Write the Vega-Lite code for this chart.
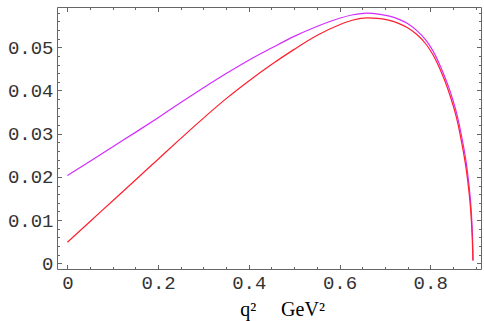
{
  "$schema": "https://vega.github.io/schema/vega-lite/v6.json",
  "width": 424,
  "height": 262,
  "autosize": "none",
  "padding": {"left": 57, "top": 7, "right": 3, "bottom": 52},
  "background": "white",
  "config": {
    "view": {"stroke": null},
    "axis": {
      "grid": false,
      "domainColor": "#666666",
      "domainWidth": 1,
      "tickColor": "#666666",
      "tickWidth": 1,
      "labelFont": "Liberation Mono",
      "labelFontSize": 19,
      "labelColor": "#333333",
      "labelOverlap": false,
      "labelBound": false,
      "labelFlush": false
    }
  },
  "data": {
    "values": [
      {"q": 0.00, "v": 0.0203, "s": "A"},
      {"q": 0.05, "v": 0.0236, "s": "A"},
      {"q": 0.10, "v": 0.0270, "s": "A"},
      {"q": 0.15, "v": 0.0303, "s": "A"},
      {"q": 0.20, "v": 0.0337, "s": "A"},
      {"q": 0.25, "v": 0.0372, "s": "A"},
      {"q": 0.30, "v": 0.0406, "s": "A"},
      {"q": 0.35, "v": 0.0439, "s": "A"},
      {"q": 0.40, "v": 0.0470, "s": "A"},
      {"q": 0.45, "v": 0.0498, "s": "A"},
      {"q": 0.50, "v": 0.0525, "s": "A"},
      {"q": 0.55, "v": 0.0548, "s": "A"},
      {"q": 0.60, "v": 0.0567, "s": "A"},
      {"q": 0.63, "v": 0.0575, "s": "A"},
      {"q": 0.66, "v": 0.0579, "s": "A"},
      {"q": 0.69, "v": 0.0576, "s": "A"},
      {"q": 0.71, "v": 0.0572, "s": "A"},
      {"q": 0.73, "v": 0.0565, "s": "A"},
      {"q": 0.75, "v": 0.0555, "s": "A"},
      {"q": 0.77, "v": 0.0539, "s": "A"},
      {"q": 0.79, "v": 0.0517, "s": "A"},
      {"q": 0.80, "v": 0.0502, "s": "A"},
      {"q": 0.81, "v": 0.0484, "s": "A"},
      {"q": 0.82, "v": 0.0462, "s": "A"},
      {"q": 0.83, "v": 0.0437, "s": "A"},
      {"q": 0.84, "v": 0.0410, "s": "A"},
      {"q": 0.85, "v": 0.0378, "s": "A"},
      {"q": 0.86, "v": 0.0340, "s": "A"},
      {"q": 0.87, "v": 0.0290, "s": "A"},
      {"q": 0.88, "v": 0.0229, "s": "A"},
      {"q": 0.885, "v": 0.0186, "s": "A"},
      {"q": 0.889, "v": 0.0143, "s": "A"},
      {"q": 0.892, "v": 0.0093, "s": "A"},
      {"q": 0.8935, "v": 0.0053, "s": "A"},
      {"q": 0.8945, "v": 0.0008, "s": "A"},
      {"q": 0.00, "v": 0.0049, "s": "B"},
      {"q": 0.05, "v": 0.0097, "s": "B"},
      {"q": 0.10, "v": 0.0145, "s": "B"},
      {"q": 0.15, "v": 0.0193, "s": "B"},
      {"q": 0.20, "v": 0.0241, "s": "B"},
      {"q": 0.25, "v": 0.0289, "s": "B"},
      {"q": 0.30, "v": 0.0336, "s": "B"},
      {"q": 0.35, "v": 0.0381, "s": "B"},
      {"q": 0.40, "v": 0.0422, "s": "B"},
      {"q": 0.45, "v": 0.0460, "s": "B"},
      {"q": 0.50, "v": 0.0495, "s": "B"},
      {"q": 0.55, "v": 0.0527, "s": "B"},
      {"q": 0.60, "v": 0.0552, "s": "B"},
      {"q": 0.63, "v": 0.0563, "s": "B"},
      {"q": 0.66, "v": 0.0568, "s": "B"},
      {"q": 0.69, "v": 0.0566, "s": "B"},
      {"q": 0.71, "v": 0.0562, "s": "B"},
      {"q": 0.73, "v": 0.0555, "s": "B"},
      {"q": 0.75, "v": 0.0545, "s": "B"},
      {"q": 0.77, "v": 0.0530, "s": "B"},
      {"q": 0.79, "v": 0.0508, "s": "B"},
      {"q": 0.80, "v": 0.0493, "s": "B"},
      {"q": 0.81, "v": 0.0475, "s": "B"},
      {"q": 0.82, "v": 0.0453, "s": "B"},
      {"q": 0.83, "v": 0.0428, "s": "B"},
      {"q": 0.84, "v": 0.0400, "s": "B"},
      {"q": 0.85, "v": 0.0367, "s": "B"},
      {"q": 0.86, "v": 0.0328, "s": "B"},
      {"q": 0.87, "v": 0.0276, "s": "B"},
      {"q": 0.88, "v": 0.0213, "s": "B"},
      {"q": 0.885, "v": 0.0170, "s": "B"},
      {"q": 0.889, "v": 0.0126, "s": "B"},
      {"q": 0.892, "v": 0.0075, "s": "B"},
      {"q": 0.8935, "v": 0.0034, "s": "B"},
      {"q": 0.8942, "v": 0.0006, "s": "B"}
    ]
  },
  "layer": [
    {
      "mark": {"type": "line", "strokeWidth": 1.2, "interpolate": "monotone"},
      "encoding": {
        "x": {
          "field": "q",
          "type": "quantitative",
          "scale": {"domain": [-0.023, 0.912], "nice": false, "zero": false},
          "axis": {
            "orient": "bottom",
            "values": [0, 0.05, 0.1, 0.15, 0.2, 0.25, 0.3, 0.35, 0.4, 0.45, 0.5, 0.55, 0.6, 0.65, 0.7, 0.75, 0.8, 0.85, 0.9],
            "format": "~g",
            "labelExpr": "abs(datum.value*5 - round(datum.value*5)) < 1e-6 ? datum.label : ''",
            "tickSize": {"condition": {"test": "abs(datum.value*5 - round(datum.value*5)) < 1e-6", "value": -4.5}, "value": -2.5},
            "labelPadding": 9,
            "title": "q²\u00a0\u00a0\u00a0\u00a0\u00a0GeV²",
            "titleFont": "Liberation Serif",
            "titleFontSize": 20,
            "titleFontWeight": "normal",
            "titleColor": "#000000",
            "titleX": 225,
            "titleY": 46,
            "titleBaseline": "alphabetic"
          }
        },
        "y": {
          "field": "v",
          "type": "quantitative",
          "scale": {"domain": [-0.0013, 0.0593], "nice": false, "zero": false},
          "axis": {
            "orient": "left",
            "values": [0, 0.002, 0.004, 0.006, 0.008, 0.01, 0.012, 0.014, 0.016, 0.018, 0.02, 0.022, 0.024, 0.026, 0.028, 0.03, 0.032, 0.034, 0.036, 0.038, 0.04, 0.042, 0.044, 0.046, 0.048, 0.05, 0.052, 0.054, 0.056, 0.058],
            "format": "~g",
            "labelExpr": "abs(datum.value*100 - round(datum.value*100)) < 1e-6 ? datum.label : ''",
            "tickSize": {"condition": {"test": "abs(datum.value*100 - round(datum.value*100)) < 1e-6", "value": -4.5}, "value": -2.5},
            "labelPadding": 8.5,
            "title": null
          }
        },
        "color": {
          "field": "s",
          "type": "nominal",
          "scale": {"domain": ["A", "B"], "range": ["#d22cff", "#ff1f2e"]},
          "legend": null
        }
      }
    },
    {
      "mark": {"type": "line", "opacity": 0},
      "encoding": {
        "x": {
          "field": "q",
          "type": "quantitative",
          "axis": {
            "orient": "top",
            "values": [0, 0.05, 0.1, 0.15, 0.2, 0.25, 0.3, 0.35, 0.4, 0.45, 0.5, 0.55, 0.6, 0.65, 0.7, 0.75, 0.8, 0.85, 0.9],
            "labels": false,
            "tickSize": {"condition": {"test": "abs(datum.value*5 - round(datum.value*5)) < 1e-6", "value": -4.5}, "value": -2.5},
            "title": null
          }
        },
        "y": {
          "field": "v",
          "type": "quantitative",
          "axis": {
            "orient": "right",
            "values": [0, 0.002, 0.004, 0.006, 0.008, 0.01, 0.012, 0.014, 0.016, 0.018, 0.02, 0.022, 0.024, 0.026, 0.028, 0.03, 0.032, 0.034, 0.036, 0.038, 0.04, 0.042, 0.044, 0.046, 0.048, 0.05, 0.052, 0.054, 0.056, 0.058],
            "labels": false,
            "tickSize": {"condition": {"test": "abs(datum.value*100 - round(datum.value*100)) < 1e-6", "value": -4.5}, "value": -2.5},
            "title": null
          }
        },
        "detail": {"field": "s"}
      }
    }
  ],
  "resolve": {"axis": {"x": "independent", "y": "independent"}}
}
